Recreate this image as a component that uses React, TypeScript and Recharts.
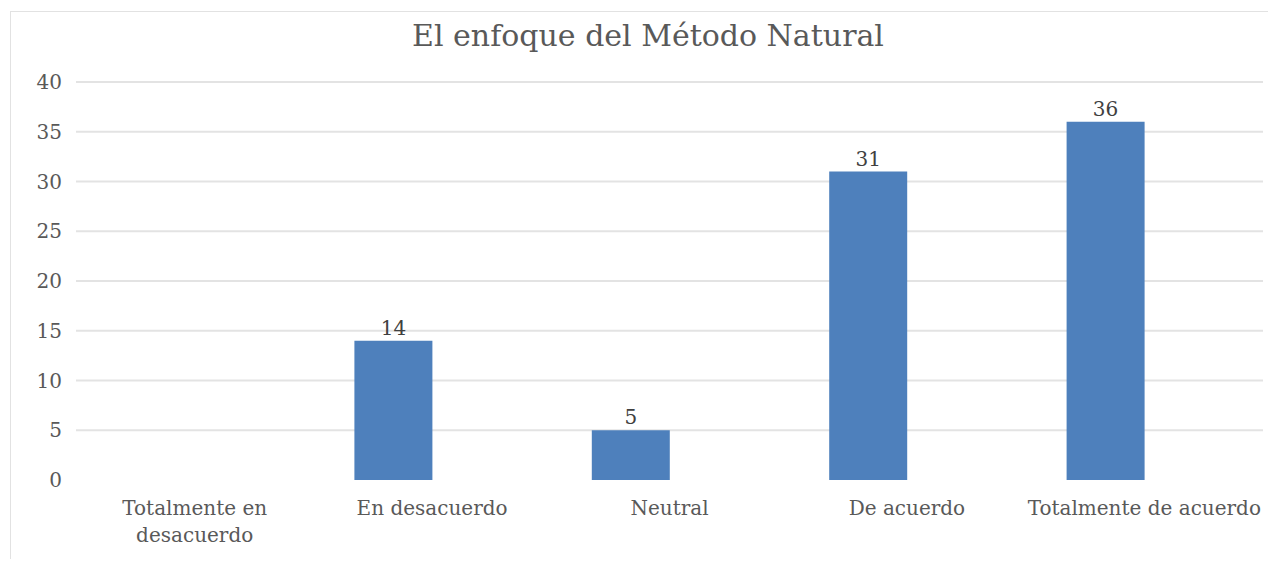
import { BarChart, Bar, XAxis, YAxis, CartesianGrid, LabelList } from 'recharts'

const categories = ['Totalmente en desacuerdo', 'En desacuerdo', 'Neutral', 'De acuerdo', 'Totalmente de acuerdo']
const tickLines = [['Totalmente en', 'desacuerdo'], ['En desacuerdo'], ['Neutral'], ['De acuerdo'], ['Totalmente de acuerdo']]
const values = [0, 14, 5, 31, 36]
const yTicks = [0, 5, 10, 15, 20, 25, 30, 35, 40]
const gridValues = [5, 10, 15, 20, 25, 30, 35, 40]

const FONT = '"DejaVu Serif", serif'
const INK = '#595959'

const data = categories.map((name, i) => ({ name, value: values[i] }))

function CategoryTick({ x, y, index }: any) {
  const lines = tickLines[index] || []
  return (
    <text x={x} y={y - 4} textAnchor="middle" fill={INK} fontFamily={FONT} fontSize={20}>
      {lines.map((line, i) => (
        <tspan key={i} x={x} dy={i === 0 ? '0.35em' : 27}>
          {line}
        </tspan>
      ))}
    </text>
  )
}

export default function App() {
  return (
    <div style={{ position: 'relative', width: 1276, height: 567, margin: -8, overflow: 'hidden', background: '#fff' }}>
      <div
        style={{
          position: 'absolute',
          left: 10,
          top: 11,
          width: 1300,
          height: 600,
          border: '1px solid #e2e2e2',
        }}
      />
      <div
        style={{
          position: 'absolute',
          left: 0,
          width: 1296,
          top: 16,
          textAlign: 'center',
          fontFamily: FONT,
          fontSize: 30,
          color: INK,
          lineHeight: '40px',
        }}
      >
        El enfoque del Método Natural
      </div>
      <div style={{ position: 'absolute', left: 0, top: 0 }}>
        <BarChart width={1276} height={567} data={data} margin={{ top: 82, right: 13, bottom: 57, left: 16 }}>
          <CartesianGrid xAxisId="labels" vertical={false} horizontalValues={gridValues} stroke="#e3e3e3" strokeWidth={2} />
          <XAxis
            xAxisId="labels"
            dataKey="name"
            height={30}
            tick={<CategoryTick />}
            tickSize={0}
            axisLine={false}
            tickLine={false}
            interval={0}
          />
          <XAxis xAxisId="bars" dataKey="name" hide padding={{ left: -39, right: 39 }} />
          <YAxis
            width={60}
            domain={[0, 40]}
            ticks={yTicks}
            interval={0}
            tickSize={0}
            tickMargin={14}
            axisLine={false}
            tickLine={false}
            tick={{ fontSize: 20, fill: INK, fontFamily: FONT }}
          />
          <Bar xAxisId="bars" dataKey="value" fill="#4e80bc" barSize={78} isAnimationActive={false}>
            <LabelList dataKey="value" position="top" offset={6} fill="#404040" fontSize={20} fontFamily={FONT} formatter={(v: any) => (v ? v : '')} />
          </Bar>
        </BarChart>
      </div>
    </div>
  )
}
